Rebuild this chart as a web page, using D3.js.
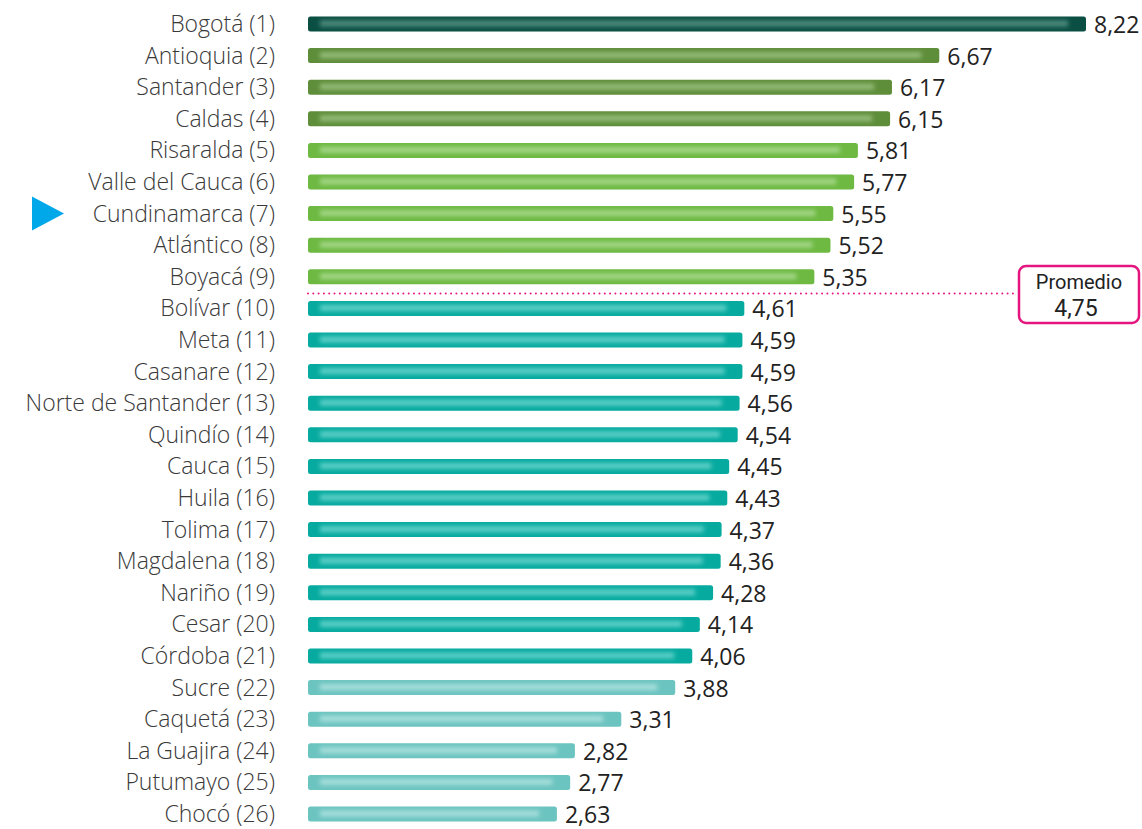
<!DOCTYPE html>
<html>
<head>
<meta charset="utf-8">
<script src="https://cdn.jsdelivr.net/npm/d3@7"></script>
<style>
  body { margin: 0; background: #fff; }
  svg { display: block; }
</style>
</head>
<body>
<svg id="chart"></svg>
<script>
// departamentos en orden de ranking
const departamentos = ["Bogotá (1)", "Antioquia (2)", "Santander (3)", "Caldas (4)", "Risaralda (5)",
  "Valle del Cauca (6)", "Cundinamarca (7)", "Atlántico (8)", "Boyacá (9)", "Bolívar (10)",
  "Meta (11)", "Casanare (12)", "Norte de Santander (13)", "Quindío (14)", "Cauca (15)",
  "Huila (16)", "Tolima (17)", "Magdalena (18)", "Nariño (19)", "Cesar (20)",
  "Córdoba (21)", "Sucre (22)", "Caquetá (23)", "La Guajira (24)", "Putumayo (25)", "Chocó (26)"];
const valores = [8.22, 6.67, 6.17, 6.15, 5.81, 5.77, 5.55, 5.52, 5.35, 4.61,
  4.59, 4.59, 4.56, 4.54, 4.45, 4.43, 4.37, 4.36, 4.28, 4.14,
  4.06, 3.88, 3.31, 2.82, 2.77, 2.63];
// grupo de color de cada barra
const grupos = [0, 1, 1, 1, 2, 2, 2, 2, 2, 3, 3, 3, 3, 3, 3, 3, 3, 3, 3, 3, 3, 4, 4, 4, 4, 4];
const promedio = 4.75;
const destacado = "Cundinamarca (7)";

const colores = ["#0b4f43", "#5f8e3b", "#6db942", "#07aa9f", "#6cc4c0"];
const brillos  = ["#4e8a7d", "#93bb77", "#a3d585", "#5ccfc7", "#a6dedb"];

const width = 1142, height = 829;
const svg = d3.select("#chart").attr("width", width).attr("height", height);

const x = d3.scaleLinear().domain([0, 8.22]).range([308, 1086]);
const y = d3.scalePoint().domain(departamentos).range([24, 814]);
const barH = 15;
const fuente = "'Open Sans', Lato, sans-serif";

const defs = svg.append("defs");
defs.append("filter").attr("id", "blur")
  .attr("x", "-10%").attr("y", "-100%").attr("width", "120%").attr("height", "300%")
  .append("feGaussianBlur").attr("stdDeviation", 2.2);

const data = departamentos.map((d, i) => ({ name: d, value: valores[i], g: grupos[i] }));

// barras
const bars = svg.append("g").selectAll("g").data(data).join("g");
bars.append("rect")
  .attr("x", x(0))
  .attr("y", d => y(d.name) - barH / 2)
  .attr("width", d => x(d.value) - x(0))
  .attr("height", barH)
  .attr("rx", 2.5)
  .attr("fill", d => colores[d.g]);
bars.append("rect")
  .attr("x", x(0) + 12)
  .attr("y", d => y(d.name) - 3.5)
  .attr("width", d => Math.max(0, x(d.value) - x(0) - 30))
  .attr("height", 6)
  .attr("fill", d => brillos[d.g])
  .attr("filter", "url(#blur)");

// etiquetas de departamentos
svg.append("g").selectAll("text").data(data).join("text")
  .attr("x", 275)
  .attr("y", d => y(d.name))
  .attr("dy", "0.35em")
  .attr("text-anchor", "end")
  .attr("font-family", fuente)
  .attr("font-weight", 300)
  .attr("font-size", 23)
  .attr("fill", "#3a3a3a")
  .text(d => d.name);

// valores
svg.append("g").selectAll("text").data(data).join("text")
  .attr("x", d => x(d.value) + 8)
  .attr("y", d => y(d.name) + 1)
  .attr("dy", "0.35em")
  .attr("font-family", fuente)
  .attr("font-size", 23)
  .attr("fill", "#222")
  .text(d => d3.format(".2f")(d.value).replace(".", ","));

// marcador
const yc = y(destacado);
svg.append("path")
  .attr("d", `M32,${yc - 17}L64,${yc}L32,${yc + 17}Z`)
  .attr("fill", "#00a8ea");

// línea de promedio
const yProm = (y("Boyacá (9)") + y("Bolívar (10)")) / 2 + 1;
svg.append("line")
  .attr("x1", x(0)).attr("x2", 1017)
  .attr("y1", yProm).attr("y2", yProm)
  .attr("stroke", "#e5157f")
  .attr("stroke-width", 2)
  .attr("stroke-dasharray", "0 5.3")
  .attr("stroke-linecap", "round");

svg.append("rect")
  .attr("x", 1019).attr("y", 266)
  .attr("width", 120).attr("height", 57)
  .attr("rx", 7)
  .attr("fill", "#fff")
  .attr("stroke", "#e5157f")
  .attr("stroke-width", 2.5);
svg.append("text")
  .attr("x", 1079).attr("y", 289)
  .attr("text-anchor", "middle")
  .attr("font-family", "'Liberation Sans Narrow', 'Roboto', sans-serif")
  .attr("font-size", 20)
  .attr("fill", "#222")
  .text("Promedio");
svg.append("text")
  .attr("x", 1076).attr("y", 316)
  .attr("text-anchor", "middle")
  .attr("font-family", "'Liberation Sans Narrow', 'Roboto', sans-serif")
  .attr("font-size", 23)
  .attr("fill", "#222")
  .text(d3.format(".2f")(promedio).replace(".", ","));
</script>
</body>
</html>
